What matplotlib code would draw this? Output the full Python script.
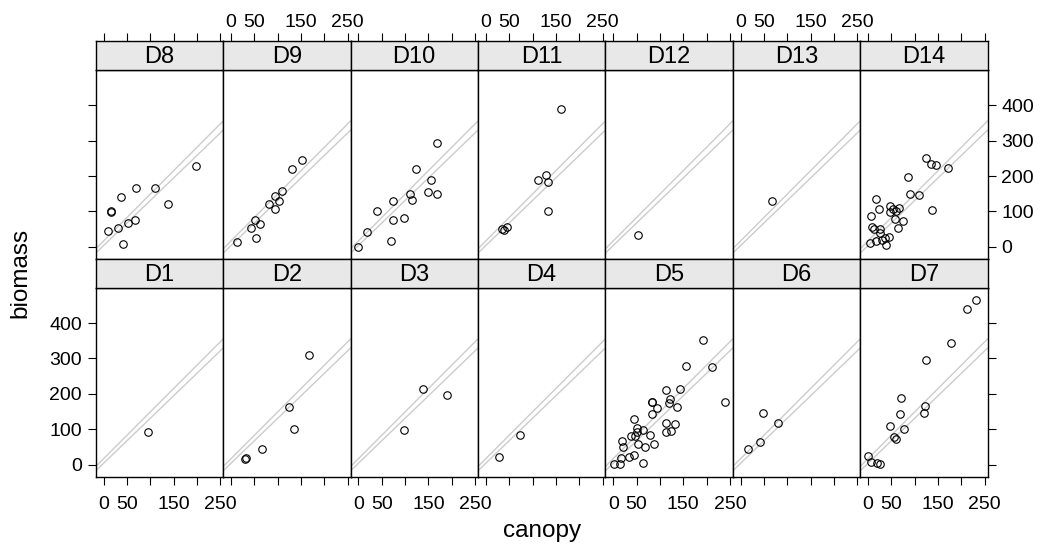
"""Biomass vs canopy cover, one panel per site, with two pooled fit lines."""

import matplotlib

matplotlib.use("Agg")
import matplotlib.pyplot as plt
import pandas as pd

plt.rcParams["font.family"] = ["Liberation Sans", "DejaVu Sans"]

# canopy / biomass by site
canopy_d1 = [94]
biomass_d1 = [92]
canopy_d2 = [30, 32, 67, 125, 135, 167]
biomass_d2 = [15, 18, 45, 163, 101, 310]
canopy_d3 = [97, 139, 190]
biomass_d3 = [98, 213, 198]
canopy_d4 = [28, 74]
biomass_d4 = [21, 84]
canopy_d5 = [1, 14, 16, 18, 20, 34, 44, 44, 38, 47, 50, 50, 54, 63, 64, 67,
             79, 82, 83, 82, 88, 94, 112, 112, 112, 119, 121, 123, 132, 136,
             142, 156, 192, 211, 239]
biomass_d5 = [2, 2, 20, 67, 49, 21, 28, 130, 81, 80, 103, 93, 58, 99, 4, 49,
              84, 177, 177, 144, 59, 159, 118, 211, 92, 174, 185, 96, 114, 163,
              215, 279, 353, 277, 176]
canopy_d6 = [16, 41, 48, 80]
biomass_d6 = [45, 64, 146, 118]
canopy_d7 = [0, 6, 19, 25, 47, 56, 60, 68, 70, 77, 120, 122, 124, 177, 212, 231]
biomass_d7 = [25, 8, 5, 2, 108, 77, 72, 142, 189, 101, 147, 165, 296, 343, 439, 466]
canopy_d8 = [9, 15, 16, 31, 38, 41, 52, 67, 70, 111, 138, 197]
biomass_d8 = [46, 98, 101, 54, 141, 8, 68, 75, 166, 165, 121, 227]
canopy_d9 = [12, 42, 52, 54, 63, 81, 94, 95, 103, 110, 131, 152]
biomass_d9 = [13, 54, 75, 25, 66, 120, 106, 143, 130, 159, 219, 244]
canopy_d10 = [0, 19, 39, 70, 73, 75, 98, 111, 114, 123, 149, 156, 168, 169]
biomass_d10 = [0, 41, 100, 16, 77, 130, 81, 150, 132, 219, 155, 189, 148, 292]
canopy_d11 = [35, 39, 45, 112, 129, 134, 134, 161]
biomass_d11 = [51, 48, 56, 190, 204, 183, 100, 388]
canopy_d12 = [52]
biomass_d12 = [33]
canopy_d13 = [67]
biomass_d13 = [130]
canopy_d14 = [6, 8, 5, 12, 17, 17, 24, 26, 25, 37, 38, 45, 48, 48, 54, 67,
              57, 74, 64, 85, 89, 109, 124, 135, 146, 136, 171, 30, 60]
biomass_d14 = [88, 56, 11, 51, 16, 136, 107, 50, 39, 24, 6, 29, 116, 99, 106,
               110, 79, 74, 54, 196, 150, 147, 250, 234, 230, 103, 222, 20, 100]

SITES = ["D1", "D2", "D3", "D4", "D5", "D6", "D7",
         "D8", "D9", "D10", "D11", "D12", "D13", "D14"]
CANOPY = [canopy_d1, canopy_d2, canopy_d3, canopy_d4, canopy_d5, canopy_d6,
          canopy_d7, canopy_d8, canopy_d9, canopy_d10, canopy_d11, canopy_d12,
          canopy_d13, canopy_d14]
BIOMASS = [biomass_d1, biomass_d2, biomass_d3, biomass_d4, biomass_d5,
           biomass_d6, biomass_d7, biomass_d8, biomass_d9, biomass_d10,
           biomass_d11, biomass_d12, biomass_d13, biomass_d14]

# two pooled fits drawn in every panel
FIT_INTERCEPTS = [17, 4]
FIT_SLOPES = [1.32, 1.27]

X_TICKS = [0, 50, 100, 150, 200, 250]
X_LABELS = ["0", "50", "", "150", "", "250"]
Y_TICKS = [0, 100, 200, 300, 400]
XLIM = (-17, 256)
YLIM = (-34, 498)

df = pd.concat(
    [pd.DataFrame({"site": s, "canopy": c, "biomass": b})
     for s, c, b in zip(SITES, CANOPY, BIOMASS)],
    ignore_index=True,
)

W, H = 1044, 550
fig = plt.figure(figsize=(W / 100, H / 100), dpi=100)


def box(x0, y0, x1, y1):
    # pixel box (top-left origin) -> figure fraction rect
    return [x0 / W, 1 - y1 / H, (x1 - x0) / W, (y1 - y0) / H]


PANEL_X0 = 95.7
PANEL_W = 127.4
ROWS = {  # row index -> (strip top, strip bottom / panel top, panel bottom)
    0: (41.3, 70.3, 259.0),
    1: (259.0, 288.3, 476.7),
}
TICK_LEN = 5.8
FS_TICK = 14

layout = [SITES[7:], SITES[:7]]  # top row D8..D14, bottom row D1..D7

for r, row_sites in enumerate(layout):
    s_top, p_top, p_bot = ROWS[r]
    for c, site in enumerate(row_sites):
        x0 = PANEL_X0 + c * PANEL_W
        x1 = x0 + PANEL_W
        ax = fig.add_axes(box(x0, p_top, x1, p_bot))
        sax = fig.add_axes(box(x0, s_top, x1, p_top))

        sub = df[df["site"] == site]
        for b, m in zip(FIT_INTERCEPTS, FIT_SLOPES):
            ax.axline((0, b), slope=m, color="#cccccc", lw=1.0, zorder=1)
        ax.plot(sub["canopy"], sub["biomass"], "o", mfc="none", mec="black",
                ms=5.4, mew=0.8, zorder=2)
        ax.set_xlim(XLIM)
        ax.set_ylim(YLIM)

        # strip
        sax.set_facecolor("#e8e8e8")
        sax.set_xlim(XLIM)
        sax.set_yticks([])
        sax.text(0.5, 0.45, site, transform=sax.transAxes, ha="center",
                 va="center", fontsize=17)
        for a in (ax, sax):
            for sp in a.spines.values():
                sp.set_color("black")
                sp.set_linewidth(1.0)

        # x axis: bottom row on panel bottom, top row on strip top
        ax.tick_params(direction="out", length=TICK_LEN, width=0.8,
                       labelsize=FS_TICK, pad=4)
        ax.tick_params(axis="x", pad=8)
        sax.tick_params(direction="out", length=TICK_LEN, width=0.8,
                        labelsize=FS_TICK, pad=1.6)
        if r == 1:
            ax.set_xticks(X_TICKS)
            ax.set_xticklabels(X_LABELS if c % 2 == 0 else [""] * 6)
            sax.set_xticks([])
        else:
            ax.set_xticks([])
            sax.xaxis.tick_top()
            sax.set_xticks(X_TICKS)
            sax.set_xticklabels(X_LABELS if c % 2 == 1 else [""] * 6)

        # y axis: left column ticks on left, right column ticks on right
        if c == 0:
            ax.set_yticks(Y_TICKS)
            if r == 1:
                ax.set_yticklabels([str(v) for v in Y_TICKS])
            else:
                ax.set_yticklabels([""] * len(Y_TICKS))
        elif c == 6:
            ax.yaxis.tick_right()
            ax.set_yticks(Y_TICKS)
            if r == 0:
                ax.set_yticklabels([str(v) for v in Y_TICKS])
            else:
                ax.set_yticklabels([""] * len(Y_TICKS))
        else:
            ax.set_yticks([])

fig.text(542 / W, 1 - 531 / H, "canopy", ha="center", va="center", fontsize=17.5)
fig.text(20 / W, 1 - 273 / H, "biomass", ha="center", va="center",
         rotation=90, fontsize=17.5)

fig.savefig("out.png", dpi=100)
